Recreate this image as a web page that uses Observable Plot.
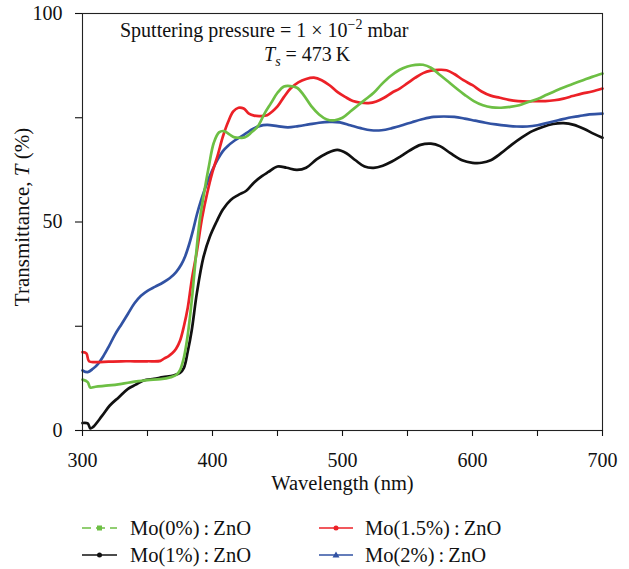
<!DOCTYPE html>
<html>
<head>
<meta charset="utf-8">
<script src="https://cdn.jsdelivr.net/npm/d3@7"></script>
<script src="https://cdn.jsdelivr.net/npm/@observablehq/plot@0.6"></script>
<style>
  body { margin: 0; background: #fff; }
  #chart { width: 629px; font-family: "Liberation Serif", serif; }
  svg { display: block; }
</style>
</head>
<body>
<div id="chart"></div>
<script>
// ---- Data ----
const seriesNames = ["Mo(0%)\u2009:\u2009ZnO", "Mo(1.5%)\u2009:\u2009ZnO", "Mo(1%)\u2009:\u2009ZnO", "Mo(2%)\u2009:\u2009ZnO"];
const seriesColors = ["#6dbf44", "#ec2127", "#111111", "#3152a3"];

const mo0Wl = [300,304,306,310,320,330,340,350,360,368,372,375,378,381,384,387,390,393,397,401,405,409,413,417,421,425,430,435,440,445,450,455,460,465,470,476,482,488,494,500,506,512,518,524,530,537,544,550,556,562,568,574,580,587,594,601,608,615,622,629,636,643,650,657,664,671,678,685,692,700];
const mo0T  = [12.2,11.6,10.3,10.5,10.8,11.2,11.7,12.1,12.3,12.8,13.3,14.5,17.5,23,31,41,50,56,63,69,71.5,71.8,71,70.3,70.2,70.3,71.5,73,76,78.5,81,82.5,82.6,82.2,80.5,77.8,75.8,74.6,74.4,75,76.5,78,79.5,81,83,85,86.5,87.3,87.7,87.7,87,85.5,84,82.2,80.5,79,78,77.5,77.4,77.6,78,78.8,79.5,80.5,81.5,82.4,83.2,84,84.8,85.6];

const mo15Wl = [300,303,305,310,320,330,340,350,360,363,366,369,372,375,378,381,384,388,392,396,400,404,408,412,416,420,424,428,432,437,442,446,450,455,460,466,472,478,484,490,496,502,508,514,520,526,532,538,544,550,556,562,568,574,580,586,593,600,607,614,621,628,635,642,649,656,663,670,677,684,692,700];
const mo15T  = [18.8,18.5,16.6,16.4,16.5,16.6,16.6,16.6,16.7,17.3,17.8,18.5,19.6,21.5,25,29.5,36,43,51,57,62,66,70.5,74,76.5,77.4,77.2,76,75.5,75.4,75.6,76.5,77.7,80,82,83.5,84.3,84.6,84,82.8,81.2,80,79,78.6,78.5,78.9,79.8,81,82,83.3,84.6,85.7,86.3,86.5,86.4,85.5,84,82.8,81.3,80.3,79.8,79.3,79,78.9,79,79,79.2,79.6,80.2,80.8,81.3,82];

const mo1Wl = [300,304,306,308,315,321,328,335,341,347,355,362,370,375,378,381,384,388,393,398,403,408,414,420,426,432,438,443,450,457,465,472,480,488,496,503,510,517,524,531,538,545,552,560,568,575,583,592,600,607,614,622,630,638,646,654,662,670,678,686,693,700];
const mo1T  = [1.8,1.7,0.5,0.8,3.5,6,8,10,11,12,12.4,12.8,13.2,13.8,15,19,24,33,41.5,46.5,50,53,55.3,56.5,57.5,59.5,61,62,63.3,63,62.5,63,65,66.5,67.3,66.5,64.8,63.3,63,63.5,64.5,65.8,67.2,68.5,68.8,68.2,66.5,64.8,64.2,64.2,64.8,66.5,68.5,70.3,71.8,72.8,73.5,73.7,73.3,72.3,71.2,70.2];

const mo2Wl = [300,304,308,312,316,320,325,330,335,340,345,350,356,362,367,372,376,379,382,385,388,391,394,397,400,404,408,412,416,421,426,431,436,442,450,458,466,474,482,490,498,506,514,522,530,538,546,554,562,570,578,586,594,602,610,618,626,634,642,650,658,666,674,682,690,700];
const mo2T  = [14.4,14,14.8,16,17.8,20,23,25.5,28,30.5,32.3,33.5,34.5,35.5,36.5,38,39.8,41.8,44.6,48,51.8,55,57.8,60.3,62.5,65,67,68.3,69.3,70.3,71.3,72.3,73,73.3,73,72.7,73,73.4,73.8,74,73.9,73.2,72.5,72,72,72.5,73.2,74,74.7,75.2,75.3,75.2,74.8,74.3,73.8,73.4,73.1,72.9,72.9,73.2,73.8,74.4,75,75.4,75.8,76];

const xTicks = [300,350,400,450,500,550,600,650,700];
const yTicks = [0,25,50,75,100];
const xLabel = "Wavelength (nm)";

// ---- Build tidy table ----
const seriesWl = [mo0Wl, mo15Wl, mo1Wl, mo2Wl];
const seriesT = [mo0T, mo15T, mo1T, mo2T];
const rows = [];
seriesNames.forEach((name, i) => {
  seriesWl[i].forEach((w, j) => rows.push({series: name, wl: w, t: seriesT[i][j]}));
});
const drawOrder = [2, 3, 1, 0]; // black, blue, red, green on top

const font = "'Liberation Serif', serif";
const FS = 20;

const plot = Plot.plot({
  width: 629,
  height: 505,
  marginTop: 13,
  marginBottom: 75,
  marginLeft: 82,
  marginRight: 27,
  style: {fontFamily: font, fontSize: FS + "px", color: "#111", background: "white", overflow: "visible"},
  x: {domain: [300, 700]},
  y: {domain: [0, 100]},
  marks: [
    ...drawOrder.map(i => Plot.line(rows.filter(r => r.series === seriesNames[i]), {
      x: "wl", y: "t", stroke: seriesColors[i], strokeWidth: 2.7, curve: "catmull-rom"
    })),
    Plot.frame({stroke: "#222", strokeWidth: 1.1}),
    Plot.axisX({ticks: xTicks, tickFormat: d => d % 100 === 0 ? String(d) : "", tickSize: 6, tickPadding: 16, label: null, strokeWidth: 1.1, fontSize: FS}),
    Plot.axisY({ticks: yTicks, tickFormat: d => d % 50 === 0 ? String(d) : "", tickSize: 7, tickPadding: 13, label: null, strokeWidth: 1.1, fontSize: FS}),
    Plot.text([xLabel], {frameAnchor: "bottom", dy: 59, fontSize: 20.5, fill: "#111"})
  ]
});

document.getElementById("chart").appendChild(plot);

const svg = d3.select(plot);
// Y axis label with italic T
const yl = svg.append("text")
  .attr("transform", "translate(29,217) rotate(-90)")
  .attr("text-anchor", "middle")
  .attr("font-family", font).attr("font-size", 21).attr("fill", "#111");
yl.append("tspan").text("Transmittance, ");
yl.append("tspan").attr("font-style", "italic").text("T");
yl.append("tspan").text(" (%)");

// Annotation
const a1 = svg.append("text").attr("x", 120).attr("y", 37).attr("text-anchor", "start")
  .attr("font-family", font).attr("font-size", 20).attr("fill", "#111");
a1.append("tspan").text("Sputtering pressure = 1 \u00d7 10");
a1.append("tspan").attr("dy", -8).attr("font-size", 14).text("\u22122");
a1.append("tspan").attr("dy", 8).text(" mbar");

const a2 = svg.append("text").attr("x", 264).attr("y", 61).attr("text-anchor", "start")
  .attr("font-family", font).attr("font-size", 20).attr("fill", "#111");
a2.append("tspan").attr("font-style", "italic").text("T");
a2.append("tspan").attr("font-style", "italic").attr("font-size", 14).attr("dy", 5).text("s");
a2.append("tspan").attr("dy", -5).text(" = 473\u2009K");

// ---- Legend ----
const legendOrder = [0, 1, 2, 3];
const legendCols = [[82, 117, 130], [319, 353, 365]];
const legendRowsY = [23, 50];
const markers = ["square", "dot", "dot", "triangle"];
const leg = d3.select("#chart").append("svg").attr("width", 629).attr("height", 64);
legendOrder.forEach((si, k) => {
  const col = legendCols[k % 2];
  const y = legendRowsY[Math.floor(k / 2)];
  const g = leg.append("g");
  g.append("line").attr("x1", col[0]).attr("x2", col[1]).attr("y1", y).attr("y2", y)
    .attr("stroke", seriesColors[si]).attr("stroke-width", 1.5)
    .attr("stroke-dasharray", si === 0 ? "9,5" : null);
  const cx = (col[0] + col[1]) / 2;
  if (markers[si] === "square") g.append("rect").attr("x", cx - 2.5).attr("y", y - 2.5).attr("width", 5).attr("height", 5).attr("fill", seriesColors[si]);
  else if (markers[si] === "triangle") g.append("path").attr("d", `M${cx},${y-3.5}L${cx+3.5},${y+2.5}L${cx-3.5},${y+2.5}Z`).attr("fill", seriesColors[si]);
  else g.append("circle").attr("cx", cx).attr("cy", y).attr("r", 2.5).attr("fill", seriesColors[si]);
  g.append("text").attr("x", col[2]).attr("y", y).attr("dy", "0.35em")
    .attr("font-family", font).attr("font-size", 20.5).attr("fill", "#111").text(seriesNames[si]);
});
</script>
</body>
</html>
